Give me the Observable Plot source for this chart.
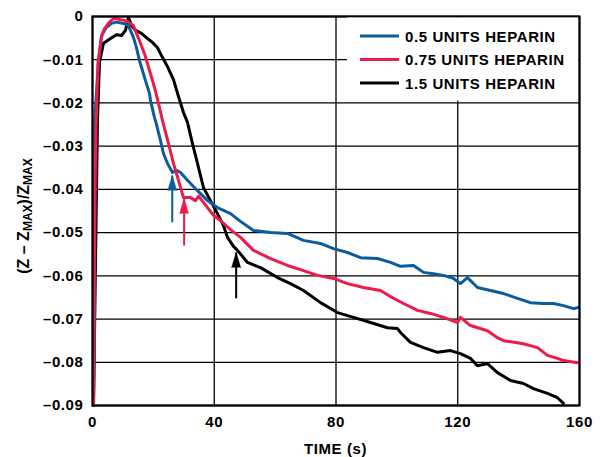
<!DOCTYPE html>
<html><head><meta charset="utf-8">
<script src="https://cdn.jsdelivr.net/npm/d3@7"></script>
<script src="https://cdn.jsdelivr.net/npm/@observablehq/plot@0.6"></script>
<style>
body{margin:0;background:#fff}
#chart{width:603px;height:457px}
#chart svg text{font-weight:bold;font-family:'Liberation Sans', Arial, sans-serif;fill:#000;font-size:15px;letter-spacing:0.6px}
</style>
</head><body><div id="chart"></div>
<script>
// ---- data ----
const seriesNames = ["0.5 UNITS HEPARIN", "0.75 UNITS HEPARIN", "1.5 UNITS HEPARIN"];
const seriesColors = ["#0b5c9e", "#ec1b4b", "#000000"];

const blueT = [0.33,0.66,0.76,1.87,2.96,4.60,6.24,7.88,10.18,11.83,13.47,14.45,15.44,17.08,18.73,19.05,20.37,20.70,22.34,23.32,24.64,26.28,27.6,28.91,31.21,34.49,37.78,41.06,45.34,48.62,52.89,58.48,64.06,69.32,74.90,79.17,83.77,88.04,93.63,97.90,101.18,105.45,108.74,112.02,115.31,118.59,120.89,123.19,126.48,130.75,135.02,139.62,143.89,148.16,151.45,154.73,158.02,159.66];
const blueV = [-0.0900,-0.0699,-0.0241,-0.0109,-0.0044,-0.0025,-0.0016,-0.0013,-0.0016,-0.0021,-0.0049,-0.0072,-0.0102,-0.0141,-0.0178,-0.0194,-0.0234,-0.0241,-0.0287,-0.0317,-0.0340,-0.0361,-0.0356,-0.0361,-0.0379,-0.0403,-0.0426,-0.0442,-0.0456,-0.0474,-0.0495,-0.0500,-0.0502,-0.0518,-0.0525,-0.0537,-0.0546,-0.0558,-0.0560,-0.0569,-0.0578,-0.0576,-0.0592,-0.0595,-0.0599,-0.0606,-0.0618,-0.0604,-0.0627,-0.0634,-0.0641,-0.0652,-0.0662,-0.0664,-0.0664,-0.0669,-0.0676,-0.0673];

const redT = [0.33,0.5,0.99,1.31,1.87,2.96,3.94,5.58,6.9,7.88,8.87,10.51,11.83,13.47,14.45,15.44,17.08,18.73,20.37,21.68,23.0,24.97,26.61,28.25,29.89,32.19,33.84,34.82,36.47,37.78,39.75,42.05,45.34,48.62,52.89,58.48,64.06,69.32,73.92,79.17,83.77,89.03,94.61,97.90,102.17,106.77,111.04,115.31,119.91,120.89,124.18,129.76,133.05,135.02,141.59,146.19,149.47,152.76,154.73,159.33];
const redV = [-0.0900,-0.0657,-0.0310,-0.0224,-0.0102,-0.0048,-0.0028,-0.0013,-0.0005,-0.0005,-0.0007,-0.0009,-0.0013,-0.0021,-0.0039,-0.0056,-0.0086,-0.0125,-0.0164,-0.0201,-0.0241,-0.0294,-0.0340,-0.0379,-0.0419,-0.0419,-0.0426,-0.0416,-0.0430,-0.0442,-0.0460,-0.0472,-0.0493,-0.0511,-0.0541,-0.0560,-0.0576,-0.0588,-0.0599,-0.0606,-0.0618,-0.0627,-0.0634,-0.0648,-0.0664,-0.0680,-0.0687,-0.0696,-0.0708,-0.0696,-0.0715,-0.0727,-0.0743,-0.0750,-0.0757,-0.0766,-0.0784,-0.0791,-0.0796,-0.0801];

const blackT = [0.33,1.64,2.30,3.61,5.91,7.88,9.53,10.84,11.83,12.81,14.13,16.10,18.07,19.71,21.35,23.0,24.64,26.61,28.25,29.89,31.21,32.85,34.49,36.47,38.76,41.06,43.04,44.35,46.32,47.63,50.92,55.19,60.78,65.05,69.32,74.90,80.49,85.74,91.33,96.91,100.2,101.18,104.47,108.74,113.34,117.61,120.89,124.18,126.48,129.76,133.05,137.32,141.59,144.88,149.47,152.76,154.73];
const blackV = [-0.0900,-0.0241,-0.0106,-0.0062,-0.0051,-0.0042,-0.0044,-0.0032,-0.0002,-0.0021,-0.0032,-0.0039,-0.0051,-0.0060,-0.0072,-0.0095,-0.0116,-0.0146,-0.0185,-0.0222,-0.0245,-0.0294,-0.0340,-0.0396,-0.0426,-0.0456,-0.0484,-0.0511,-0.0532,-0.0541,-0.0569,-0.0581,-0.0604,-0.0618,-0.0634,-0.0662,-0.0685,-0.0696,-0.0708,-0.0720,-0.0722,-0.0731,-0.0754,-0.0766,-0.0777,-0.0773,-0.0780,-0.0791,-0.0808,-0.0803,-0.0824,-0.0842,-0.0849,-0.0861,-0.0872,-0.0882,-0.0895];

// arrows: time, tip value, tail value
const arrowT = [26.2, 30.1, 47.2];
const arrowTip = [-0.0368, -0.0421, -0.0546];
const arrowTail = [-0.0476, -0.0530, -0.0652];

const xTicks = [0, 40, 80, 120, 160];
const yTicks = [0, -0.01, -0.02, -0.03, -0.04, -0.05, -0.06, -0.07, -0.08, -0.09];

// ---- build tables ----
const toRows = (T, V, s) => T.map((t, i) => ({t, v: V[i], s}));
const rows = [
  ...toRows(blackT, blackV, seriesNames[2]),
  ...toRows(blueT, blueV, seriesNames[0]),
  ...toRows(redT, redV, seriesNames[1])
];
const arrows = arrowT.map((t, i) => ({t, tip: arrowTip[i], tail: arrowTail[i], s: seriesNames[i]}));

const fmt = d => d === 0 ? "0" : "\u2013" + Math.abs(d).toFixed(2);

const plot = Plot.plot({
  width: 603,
  height: 457,
  marginLeft: 92,
  marginRight: 24,
  marginTop: 16,
  marginBottom: 52,
  style: {fontFamily: "'Liberation Sans', Arial, sans-serif", fontWeight: "bold", fontSize: "15px", background: "#fff", color: "#000"},
  x: {domain: [0, 160]},
  y: {domain: [-0.09, 0]},
  color: {domain: seriesNames, range: seriesColors},
  marks: [
    Plot.gridX(xTicks, {stroke: "#000", strokeOpacity: 1, strokeWidth: 1.3}),
    Plot.gridY(yTicks, {stroke: "#000", strokeOpacity: 1, strokeWidth: 1.3}),
    Plot.axisX(xTicks, {tickSize: 0, tickPadding: 11, label: null}),
    Plot.axisY(yTicks, {tickSize: 0, tickPadding: 9, label: null, tickFormat: fmt}),
    Plot.line(rows, {x: "t", y: "v", z: "s", stroke: "s", strokeWidth: 3, curve: "linear", strokeLinejoin: "round"}),
    Plot.link(arrows, {x1: "t", x2: "t", y1: "tail", y2: "tip", stroke: "s", strokeWidth: 2}),
    Plot.vector(arrows, {x: "t", y: "tip", shape: "spike", anchor: "end", length: 15, r: 4.5, rotate: 0, fill: "s", stroke: "s", strokeWidth: 0.5}),
    Plot.frame({stroke: "#000", strokeWidth: 2.2})
  ]
});

document.getElementById("chart").appendChild(plot);

// ---- labels & legend ----
const svg = d3.select(plot);
const sx = plot.scale("x");

svg.append("text")
  .attr("x", (sx.apply(0) + sx.apply(160)) / 2)
  .attr("y", 454)
  .attr("text-anchor", "middle")
  .style("font-size", "15px")
  .text("TIME (s)");

const yl = svg.append("text")
  .attr("transform", "translate(29,216) rotate(-90)")
  .attr("text-anchor", "middle")
  .style("font-size", "16px")
  .style("letter-spacing", "0px");
yl.append("tspan").text("(Z \u2013 Z");
yl.append("tspan").attr("dy", 3).style("font-size", "12px").text("MAX");
yl.append("tspan").attr("dy", -3).text(")/Z");
yl.append("tspan").attr("dy", 3).style("font-size", "12px").text("MAX");

// legend
const lg = svg.append("g");
lg.append("rect").attr("x", 347).attr("y", 17.5).attr("width", 231).attr("height", 83).attr("fill", "#fff");
seriesNames.forEach((name, i) => {
  const y = 36 + i * 23.5;
  lg.append("line").attr("x1", 360).attr("x2", 399).attr("y1", y).attr("y2", y)
    .attr("stroke", seriesColors[i]).attr("stroke-width", 3);
  lg.append("text").attr("x", 405).attr("y", y + 5.5)
    .attr("text-anchor", "start")
    .style("font-size", "15px")
    .text(name);
});
</script>
</body></html>
